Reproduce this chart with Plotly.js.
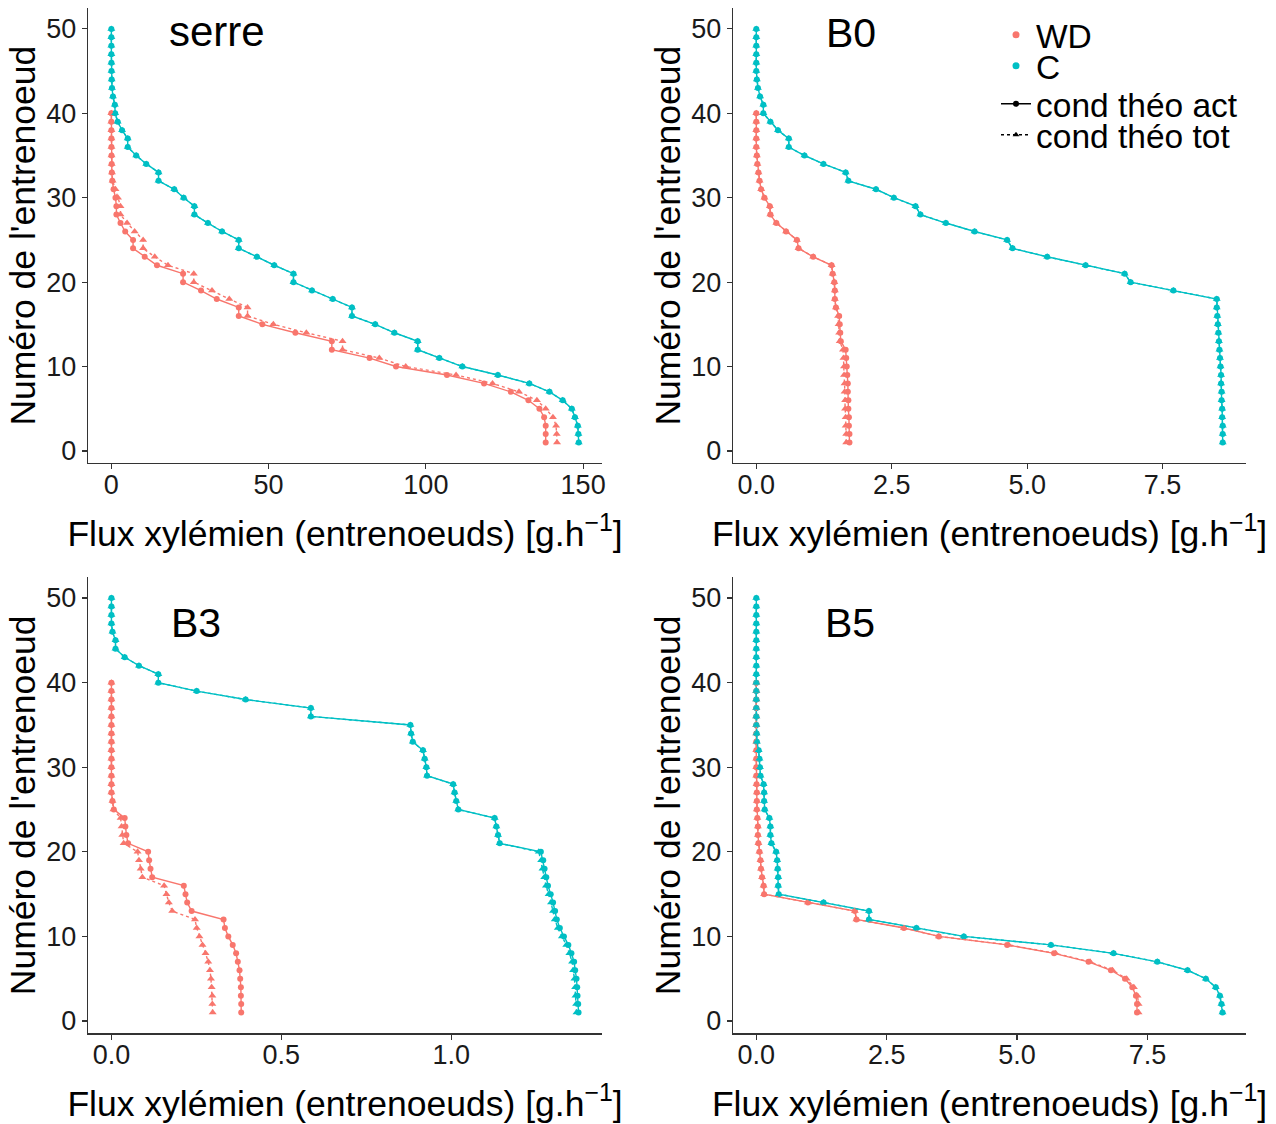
<!DOCTYPE html>
<html><head><meta charset="utf-8">
<script src="https://cdn.plot.ly/plotly-3.0.1.min.js"></script>
<style>html,body{margin:0;padding:0;background:#fff}</style>
</head><body><div id="chart" style="width:1276px;height:1124px"></div>
<script>
// Node numbers (internode index)
const nodesC = [1,2,3,4,5,6,7,8,9,10,11,12,13,14,15,16,17,18,19,20,21,22,23,24,25,26,27,28,29,30,31,32,33,34,35,36,37,38,39,40,41,42,43,44,45,46,47,48,49,50];
const nodesWD = [1,2,3,4,5,6,7,8,9,10,11,12,13,14,15,16,17,18,19,20,21,22,23,24,25,26,27,28,29,30,31,32,33,34,35,36,37,38,39,40];

// serre
const serre_C_act = [148.6,148.5,148.3,147.4,146.4,143.5,139.3,132.9,122.9,111.6,104.3,97.4,97.4,90.0,83.9,76.5,76.5,70.4,63.8,57.9,57.9,51.8,46.3,40.5,40.5,35.2,30.7,26.4,26.4,23.0,20.0,15.0,15.0,11.1,7.9,5.2,5.2,3.4,2.0,1.2,1.1,0.5,0.2,0.1,0.05,0.02,0,0,0,0];
const serre_C_tot = [148.6,148.5,148.3,147.4,146.4,143.5,139.3,132.9,122.9,111.6,104.3,97.4,97.4,90.0,83.9,76.5,76.5,70.4,63.8,57.9,57.9,51.8,46.3,40.5,40.5,35.2,30.7,26.4,26.4,23.0,20.0,15.0,15.0,11.1,7.9,5.2,5.2,3.4,2.0,1.2,1.1,0.5,0.2,0.1,0.05,0.02,0,0,0,0];
const serre_WD_act = [138.1,138.1,138.1,137.6,136.1,132.6,127.0,118.5,106.7,90.5,82.1,70.1,70.1,58.5,48.0,40.5,40.5,33.5,28.5,22.8,22.8,14.5,10.6,6.9,6.9,4.4,2.9,1.6,1.6,1.3,0.7,0.3,0.15,0.1,0.05,0.03,0.02,0.01,0,0];
const serre_WD_tot = [141.7,141.6,141.4,140.4,138.1,135.3,129.6,121.2,109.6,93.6,85.2,73.5,73.5,62.0,51.5,43.3,43.3,37.5,32.0,26.2,26.2,18.0,13.8,10.1,10.1,7.4,5.0,2.9,2.9,2.1,1.3,0.4,0.2,0.1,0.05,0.03,0.02,0.01,0,0];

// B0
const B0_C_act = [8.61,8.61,8.61,8.60,8.60,8.59,8.59,8.58,8.58,8.57,8.56,8.55,8.54,8.53,8.52,8.51,8.50,8.50,7.70,6.91,6.80,6.08,5.37,4.73,4.63,4.03,3.50,3.03,2.94,2.54,2.21,1.70,1.65,1.24,0.89,0.60,0.60,0.40,0.26,0.13,0.13,0.07,0.03,0.01,0,0,0,0,0,0];
const B0_C_tot = [8.61,8.61,8.61,8.60,8.60,8.59,8.59,8.58,8.58,8.57,8.56,8.55,8.54,8.53,8.52,8.51,8.50,8.50,7.70,6.91,6.80,6.08,5.37,4.73,4.63,4.03,3.50,3.03,2.94,2.54,2.21,1.70,1.65,1.24,0.89,0.60,0.60,0.40,0.26,0.13,0.13,0.07,0.03,0.01,0,0,0,0,0,0];
const B0_WD_act = [1.72,1.72,1.71,1.71,1.70,1.70,1.69,1.69,1.68,1.67,1.66,1.65,1.56,1.55,1.54,1.53,1.47,1.45,1.45,1.44,1.41,1.39,1.05,0.78,0.75,0.55,0.37,0.26,0.25,0.15,0.09,0.06,0.04,0.02,0.01,0,0,0,0,0];
const B0_WD_tot = [1.66,1.66,1.65,1.65,1.64,1.64,1.63,1.63,1.62,1.62,1.61,1.60,1.54,1.53,1.52,1.51,1.47,1.45,1.45,1.44,1.41,1.39,1.05,0.78,0.75,0.55,0.37,0.26,0.25,0.15,0.09,0.06,0.04,0.02,0.01,0,0,0,0,0];

// B3
const B3_C_act = [1.375,1.374,1.372,1.371,1.369,1.365,1.362,1.354,1.345,1.332,1.320,1.311,1.306,1.300,1.293,1.285,1.280,1.275,1.271,1.264,1.143,1.138,1.133,1.128,1.021,1.015,1.010,1.006,0.929,0.927,0.922,0.917,0.887,0.882,0.880,0.587,0.587,0.395,0.251,0.138,0.138,0.081,0.039,0.012,0.012,0.003,0,0,0,0];
const B3_C_tot = [1.369,1.368,1.366,1.365,1.363,1.359,1.356,1.348,1.339,1.326,1.314,1.305,1.300,1.294,1.287,1.279,1.274,1.269,1.265,1.258,1.143,1.138,1.133,1.128,1.021,1.015,1.010,1.006,0.929,0.927,0.922,0.917,0.887,0.882,0.880,0.587,0.587,0.395,0.251,0.138,0.138,0.081,0.039,0.012,0.012,0.003,0,0,0,0];
const B3_WD_act = [0.382,0.382,0.381,0.381,0.379,0.377,0.372,0.367,0.357,0.344,0.334,0.330,0.236,0.223,0.218,0.213,0.120,0.115,0.111,0.108,0.049,0.044,0.041,0.039,0.007,0.003,0,0,0,0,0,0,0,0,0,0,0,0,0,0];
const B3_WD_tot = [0.298,0.297,0.297,0.295,0.293,0.290,0.285,0.277,0.268,0.259,0.251,0.246,0.179,0.169,0.162,0.155,0.091,0.086,0.081,0.077,0.036,0.032,0.030,0.027,0.006,0.003,0,0,0,0,0,0,0,0,0,0,0,0,0,0];

// B5
const B5_C_act = [8.94,8.92,8.89,8.81,8.62,8.27,7.69,6.85,5.65,3.98,3.07,2.16,2.16,1.29,0.43,0.42,0.42,0.41,0.40,0.38,0.29,0.27,0.27,0.25,0.16,0.15,0.15,0.14,0.08,0.07,0.06,0.045,0.01,0.005,0,0,0,0,0,0,0,0,0,0,0,0,0,0,0,0];
const B5_C_tot = [8.94,8.92,8.89,8.81,8.62,8.27,7.69,6.85,5.65,3.98,3.07,2.16,2.16,1.29,0.43,0.42,0.42,0.41,0.40,0.38,0.29,0.27,0.27,0.25,0.16,0.15,0.15,0.14,0.08,0.07,0.06,0.045,0.01,0.005,0,0,0,0,0,0,0,0,0,0,0,0,0,0,0,0];
const B5_WD_act = [7.30,7.30,7.28,7.21,7.07,6.80,6.37,5.71,4.81,3.50,2.83,1.92,1.89,0.99,0.15,0.14,0.11,0.09,0.08,0.06,0.04,0.03,0.03,0.02,0.01,0.01,0.01,0.005,0,0,0,0,0,0,0,0,0,0,0,0];
const B5_WD_tot = [7.33,7.33,7.31,7.24,7.10,6.83,6.40,5.74,4.84,3.50,2.83,1.92,1.89,0.99,0.15,0.14,0.11,0.09,0.08,0.06,0.04,0.03,0.03,0.02,0.01,0.01,0.01,0.005,0,0,0,0,0,0,0,0,0,0,0,0];

// panel titles and tick labels
const panelTitles = ['serre','B0','B3','B5'];
const ticksSerre = [0,50,100,150], ticksSerreTxt = ['0','50','100','150'];
const ticksB0 = [0,2.5,5,7.5], ticksB0Txt = ['0.0','2.5','5.0','7.5'];
const ticksB3 = [0,0.5,1.0], ticksB3Txt = ['0.0','0.5','1.0'];
const ticksB5 = [0,2.5,5,7.5], ticksB5Txt = ['0.0','2.5','5.0','7.5'];
const ticksY = [0,10,20,30,40,50];
const legendLabels = ['WD','C','cond théo act','cond théo tot'];

const FONT = 'Liberation Sans, Arial, sans-serif';
const RED = '#F8766D', TEAL = '#00BFC4';
const TICKCOL = '#1a1a1a';

function mk(x, y, color, kind, xa, ya) {
  const act = kind === 'act';
  return {type:'scatter', mode:'lines+markers', x:x, y:y, xaxis:xa, yaxis:ya,
    showlegend:false, hoverinfo:'skip',
    line:{color:color, width:1.4, dash: act ? 'solid' : 'dot'},
    marker:{color:color, size: act ? 6 : 7, symbol: act ? 'circle' : 'triangle-up'}};
}

const traces = [
  mk(serre_WD_act, nodesWD, RED, 'act', 'x', 'y'),
  mk(serre_C_act, nodesC, TEAL, 'act', 'x', 'y'),
  mk(serre_WD_tot, nodesWD, RED, 'tot', 'x', 'y'),
  mk(serre_C_tot, nodesC, TEAL, 'tot', 'x', 'y'),
  mk(B0_WD_act, nodesWD, RED, 'act', 'x2', 'y2'),
  mk(B0_C_act, nodesC, TEAL, 'act', 'x2', 'y2'),
  mk(B0_WD_tot, nodesWD, RED, 'tot', 'x2', 'y2'),
  mk(B0_C_tot, nodesC, TEAL, 'tot', 'x2', 'y2'),
  mk(B3_WD_act, nodesWD, RED, 'act', 'x3', 'y3'),
  mk(B3_C_act, nodesC, TEAL, 'act', 'x3', 'y3'),
  mk(B3_WD_tot, nodesWD, RED, 'tot', 'x3', 'y3'),
  mk(B3_C_tot, nodesC, TEAL, 'tot', 'x3', 'y3'),
  mk(B5_WD_act, nodesWD, RED, 'act', 'x4', 'y4'),
  mk(B5_C_act, nodesC, TEAL, 'act', 'x4', 'y4'),
  mk(B5_WD_tot, nodesWD, RED, 'tot', 'x4', 'y4'),
  mk(B5_C_tot, nodesC, TEAL, 'tot', 'x4', 'y4'),
  // legend entries
  {type:'scatter', mode:'markers', x:[null], y:[null], name:legendLabels[0], legend:'legend',
   marker:{color:RED, size:7, symbol:'circle'}},
  {type:'scatter', mode:'markers', x:[null], y:[null], name:legendLabels[1], legend:'legend2',
   marker:{color:TEAL, size:7, symbol:'circle'}},
  {type:'scatter', mode:'lines+markers', x:[null], y:[null], name:legendLabels[2], legend:'legend3',
   line:{color:'#000', width:1.4}, marker:{color:'#000', size:6, symbol:'circle'}},
  {type:'scatter', mode:'lines+markers', x:[null], y:[null], name:legendLabels[3], legend:'legend4',
   line:{color:'#000', width:1.4, dash:'dot'}, marker:{color:'#000', size:6, symbol:'triangle-up'}}
];

const W = 1276, H = 1124;
const xdomL = [88/W, 602/W], xdomR = [733/W, 1246/W];
const ydomT = [1-463.2/H, 1-8.2/H], ydomB = [1-1033.3/H, 1-577.3/H];
const xTitle = 'Flux xylémien (entrenoeuds) [g.h<sup>−1</sup>]';
const yTitle = "Numéro de l'entrenoeud";

function xax(domain, range, tv, tt, anchor) {
  return {domain:domain, range:range, anchor:anchor, tickvals:tv, ticktext:tt,
    showgrid:false, zeroline:false, showline:true, linecolor:'#333', linewidth:1.2,
    ticks:'outside', ticklen:5, tickcolor:'#333', tickwidth:1.2, ticklabelstandoff:-8,
    tickfont:{size:27, color:TICKCOL, family:FONT},
    title:{text:xTitle, font:{size:35.5, color:'#000', family:FONT}, standoff:22}};
}
function yax(domain, anchor) {
  return {domain:domain, range:[-1.45, 52.45], anchor:anchor, tickvals:ticksY,
    showgrid:false, zeroline:false, showline:true, linecolor:'#333', linewidth:1.2,
    ticks:'outside', ticklen:5, tickcolor:'#333', tickwidth:1.2,
    tickfont:{size:27, color:TICKCOL, family:FONT},
    title:{text:yTitle, font:{size:35.5, color:'#000', family:FONT}, standoff:0}};
}

function leg(yPx) {
  return {x:996/W, y:1-yPx/H, xanchor:'left', yanchor:'middle', bgcolor:'rgba(0,0,0,0)',
    font:{size:33.5, color:'#000', family:FONT}, itemwidth:30, borderwidth:0};
}

const layout = {
  width:W, height:H, margin:{l:0, r:0, t:0, b:0},
  paper_bgcolor:'#fff', plot_bgcolor:'#fff',
  font:{family:FONT, color:'#000'},
  xaxis: xax(xdomL, [-7.43, 156.0], ticksSerre, ticksSerreTxt, 'y'),
  yaxis: yax(ydomT, 'x'),
  xaxis2: xax(xdomR, [-0.43, 9.04], ticksB0, ticksB0Txt, 'y2'),
  yaxis2: yax(ydomT, 'x2'),
  xaxis3: xax(xdomL, [-0.069, 1.444], ticksB3, ticksB3Txt, 'y3'),
  yaxis3: yax(ydomB, 'x3'),
  xaxis4: xax(xdomR, [-0.447, 9.39], ticksB5, ticksB5Txt, 'y4'),
  yaxis4: yax(ydomB, 'x4'),
  legend: leg(35), legend2: leg(66), legend3: leg(104), legend4: leg(135),
  annotations: [
    {xref:'x', yref:'y', x:33.7, y:49.7, text:panelTitles[0], showarrow:false, font:{size:42, color:'#000', family:FONT}},
    {xref:'x2', yref:'y2', x:1.75, y:49.5, text:panelTitles[1], showarrow:false, font:{size:41, color:'#000', family:FONT}},
    {xref:'x3', yref:'y3', x:0.25, y:47.1, text:panelTitles[2], showarrow:false, font:{size:41, color:'#000', family:FONT}},
    {xref:'x4', yref:'y4', x:1.8, y:47.1, text:panelTitles[3], showarrow:false, font:{size:41, color:'#000', family:FONT}}
  ]
};

Plotly.newPlot('chart', traces, layout, {staticPlot:true, displayModeBar:false});
</script>
</body></html>
